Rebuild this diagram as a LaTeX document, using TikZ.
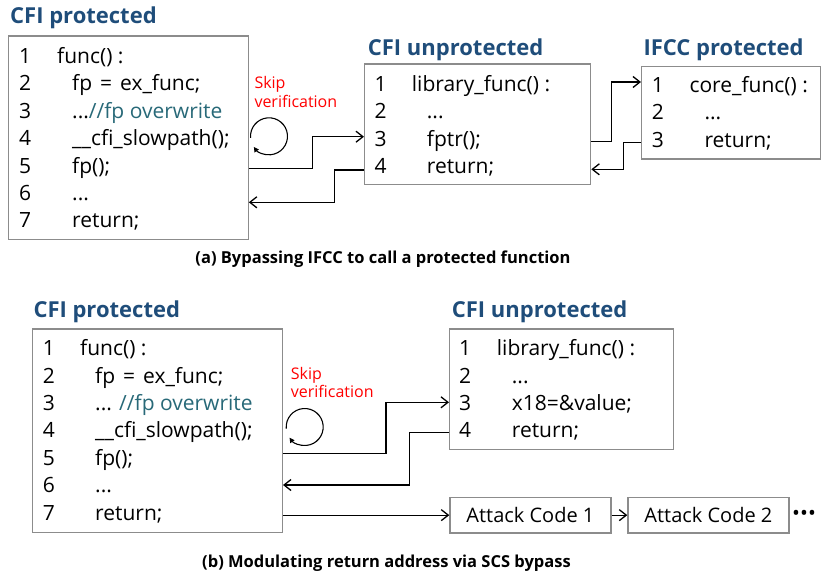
\documentclass[tikz,border=0pt]{standalone}
\usepackage{fontspec}
\setmainfont{Open Sans}
\usetikzlibrary{arrows.meta,positioning}
\definecolor{titleblue}{RGB}{31,77,122}
\definecolor{cmtteal}{RGB}{40,105,120}
\definecolor{boxgray}{RGB}{140,140,140}
\newcommand{\ind}{\hspace*{15pt}}
\newcommand{\skipdots}{...}
\newcommand{\assign}{\hspace{8pt}=\hspace{8pt}}

\begin{document}
\begin{tikzpicture}[x=1pt,y=-1pt,
  code box/.style={draw=boxgray,line width=1.3pt,inner sep=0pt},
  title/.style={anchor=base west,inner sep=0pt,text=titleblue,font=\fontsize{22}{22}\selectfont\bfseries},
  code/.style={anchor=base west,inner sep=0pt,font=\fontsize{21}{21}\selectfont},
  skip/.style={anchor=base west,inner sep=0pt,align=left,text=red,font=\fontsize{16}{18.3}\selectfont},
  caption/.style={inner sep=0pt,font=\fontsize{16.5}{16.5}\selectfont\bfseries},
  flow/.style={-{Straight Barb[length=7pt,width=11pt]},line width=1.3pt},
  loop/.style={-{Triangle[length=5pt,width=5pt]},line width=1.1pt}]
\useasboundingbox (0,0) rectangle (825,575);

% (a) bypassing IFCC
\node[title] (tA) at (10,23.3) {CFI protected};
\node[title] (tB) at (367.7,56) {CFI unprotected};
\node[title] (tC) at (643.3,56) {IFCC protected};
\node[code box,minimum width=240pt,minimum height=203.5pt,anchor=north west] (protA) at (7.5,35.5) {};
\node[code box,minimum width=226pt,minimum height=120.7pt,anchor=north west] (unprotB) at (364,63.3) {};
\node[code box,minimum width=179pt,minimum height=92.3pt,anchor=north west] (ifccC) at (641,66) {};
\foreach \t [count=\n] in {func() :,\ind fp\assign ex\_func;,\ind \skipdots{\color{cmtteal}//fp overwrite},\ind \_\_cfi\_slowpath();,\ind fp();,\ind \skipdots,\ind return;}{
  \node[code] (an\n) at (19,63.5+27.4*\n-27.4) {\n};
  \node[code] (at\n) at (57,63.5+27.4*\n-27.4) {\t};
}
\foreach \t [count=\n] in {library\_func() :,\ind \skipdots,\ind fptr();,\ind return;}{
  \node[code] (bn\n) at (374.3,91.7+27.2*\n-27.2) {\n};
  \node[code] (bt\n) at (411.7,91.7+27.2*\n-27.2) {\t};
}
\foreach \t [count=\n] in {core\_func() :,\ind \skipdots,\ind return;}{
  \node[code] (cn\n) at (651.7,92.7+27.3*\n-27.3) {\n};
  \node[code] (ct\n) at (689.3,92.7+27.3*\n-27.3) {\t};
}
\node[skip] (skipA) at (254.3,107.3) {Skip\\verification};
\coordinate (loopA) at (269,136.3);
\draw[loop] ([shift={(-185:18.5)}]loopA) arc[start angle=-185,end angle=145,radius=18.5];
\draw[flow] (protA.east |- 0,168.3) -| (312.3,136.7) -- (unprotB.west |- 0,136.7);
\draw[flow] (unprotB.west |- 0,170) -| (334.3,202.3) -- (protA.east |- 0,202.3);
\draw[flow] (unprotB.east |- 0,141.7) -| (611.7,82) -- (ifccC.west |- 0,82);
\draw[flow] (ifccC.west |- 0,142.7) -| (623.3,169.3) -- (unprotB.east |- 0,169.3);
\node[caption] (capA) at (383,259) {(a) Bypassing IFCC to call a protected function};

% (b) SCS bypass
\node[title] (tD) at (33.3,317.3) {CFI protected};
\node[title] (tE) at (451.7,317.3) {CFI unprotected};
\node[code box,minimum width=250pt,minimum height=203.4pt,anchor=north west] (protD) at (31.7,328.3) {};
\node[code box,minimum width=224pt,minimum height=120.7pt,anchor=north west] (unprotE) at (449,328.3) {};
\foreach \t [count=\n] in {func() :,\ind fp\assign ex\_func;,\ind \skipdots{} {\color{cmtteal}//fp overwrite},\ind \_\_cfi\_slowpath();,\ind fp();,\ind \skipdots,\ind return;}{
  \node[code] (dn\n) at (42.7,355.7+27.4*\n-27.4) {\n};
  \node[code] (dt\n) at (80,355.7+27.4*\n-27.4) {\t};
}
\foreach \t [count=\n] in {library\_func() :,\ind \skipdots,\ind x18=\&value;,\ind return;}{
  \node[code] (en\n) at (459,355.7+27.3*\n-27.3) {\n};
  \node[code] (et\n) at (496.7,355.7+27.3*\n-27.3) {\t};
}
\node[code box,minimum width=161pt,minimum height=35.6pt,anchor=north west,font=\fontsize{20}{20}\selectfont] (atk1) at (449.3,496.7) {Attack Code 1};
\node[code box,minimum width=161pt,minimum height=35.6pt,anchor=north west,font=\fontsize{20}{20}\selectfont] (atk2) at (627.3,496.7) {Attack Code 2};
\node[code,anchor=west] (more) at (792,515) {•••};
\node[skip] (skipD) at (290.7,397.3) {Skip\\verification};
\coordinate (loopD) at (304.7,427);
\draw[loop] ([shift={(-185:18.5)}]loopD) arc[start angle=-185,end angle=145,radius=18.5];
\draw[flow] (protD.east |- 0,453.3) -| (386,402.3) -- (unprotE.west |- 0,402.3);
\draw[flow] (unprotE.west |- 0,432.7) -| (409.3,485) -- (protD.east |- 0,485);
\draw[flow] (protD.east |- atk1) -- (atk1);
\draw[flow] (atk1) -- (atk2);
\node[caption] (capB) at (386.5,563) {(b) Modulating return address via SCS bypass};
\end{tikzpicture}
\end{document}
